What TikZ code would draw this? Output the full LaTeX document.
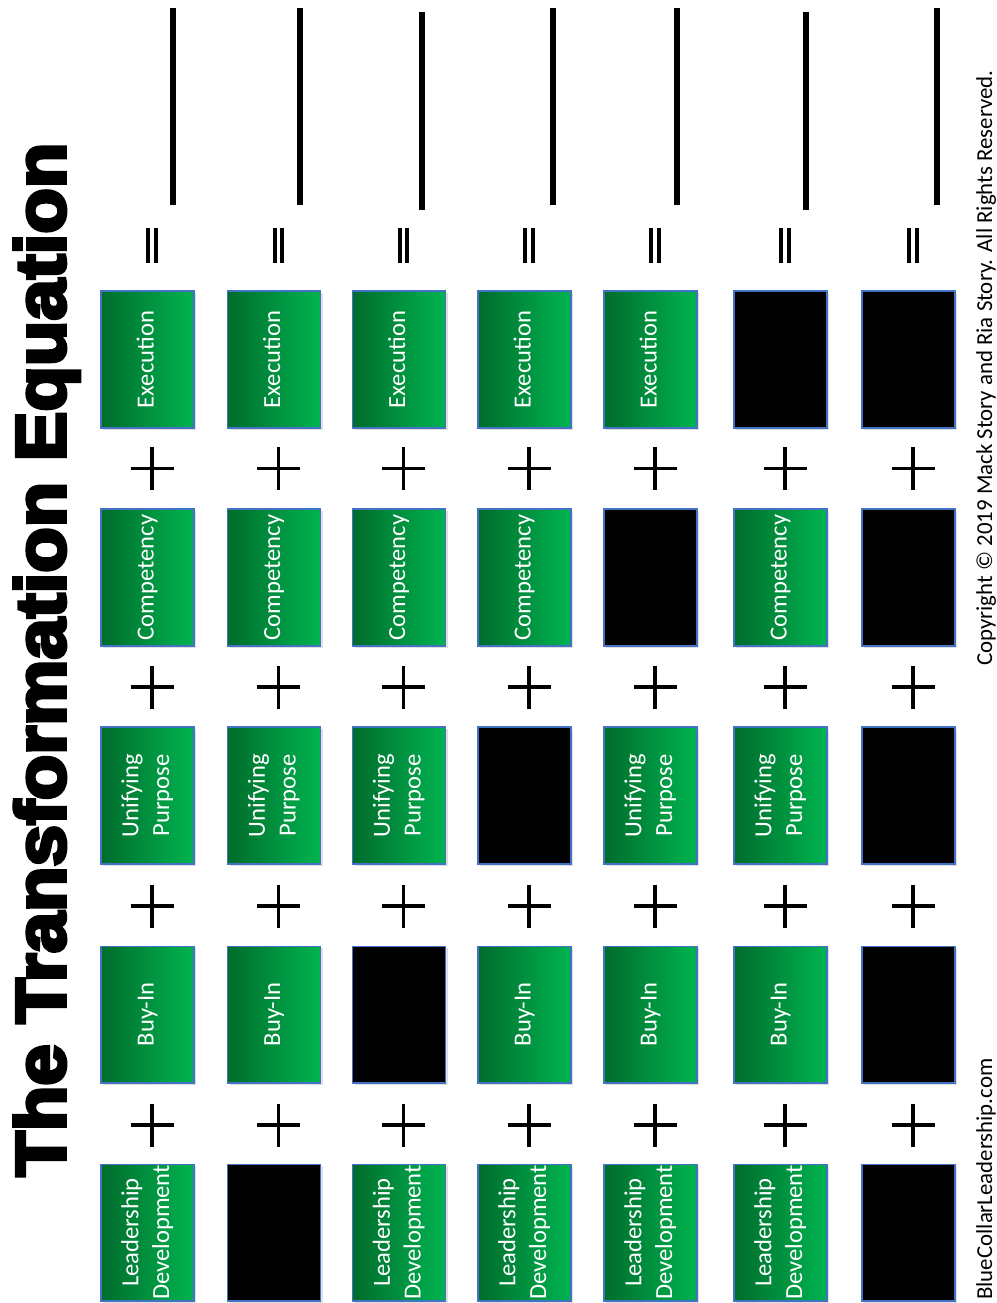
\documentclass[tikz,border=0pt]{standalone}
\usepackage{fontspec}
\setmainfont{Carlito}
\newfontfamily\titlefont{Liberation Sans}[UprightFont={* Bold},UprightFeatures={FakeBold=5}]
\usepackage{graphicx}
\usetikzlibrary{shadows}
\definecolor{gdark}{RGB}{0,108,44}
\definecolor{glight}{RGB}{0,180,80}
\definecolor{edge}{RGB}{68,114,196}
\newcommand{\rot}[1]{\rotatebox{90}{\begin{tabular}{@{}c@{}}#1\end{tabular}}}

\begin{document}
\begin{tikzpicture}[x=0.02cm,y=-0.02cm,
  G/.style={draw=edge,line width=0.6pt,inner sep=0pt,
            minimum width=1.86cm,minimum height=2.74cm,
            left color=gdark,right color=glight,text=white,
            font=\fontsize{14}{17.5}\selectfont,
            drop shadow={opacity=0.25,shadow xshift=1.2pt,shadow yshift=-1.2pt}},
  K/.style={draw=edge,line width=0.6pt,inner sep=0pt,
            minimum width=1.86cm,minimum height=2.74cm,fill=black,
            drop shadow={opacity=0.25,shadow xshift=1.2pt,shadow yshift=-1.2pt}},
  blank/.style={line width=3.4pt},
  note/.style={rotate=90,anchor=base west,inner sep=0pt,
               font=\fontsize{13}{15}\selectfont},
  plus/.pic={\draw[line width=2pt] (-21.5,0) -- (21.5,0) (0,-21.5) -- (0,21.5);},
  equal/.pic={\draw[line width=2.3pt] (-3.6,-17.5) -- (-3.6,17.5) (3.6,-17.5) -- (3.6,17.5);}
]
\useasboundingbox (0,0) rectangle (997,1303);

%% col-x:  147.5 | 274 | 399 | 524.5 | 650.5 | 780.5 | 908.5
%% row-y:  359.5 | 577.5 | 795.5 | 1014.5 | 1232.5

% title
\node[rotate=90,anchor=base west,inner sep=0pt] (title) at (65,1177)
      {\resizebox{20.68cm}{1.02cm}{\titlefont The Transformation Equation}};

% green boxes
\foreach \x/\n in {147.5/1,274/2,399/3,524.5/4,650.5/5}
  \node[G] (ex\n) at (\x,359.5) {\rot{Execution}};
\foreach \x/\n in {147.5/1,274/2,399/3,524.5/4,780.5/6}
  \node[G] (co\n) at (\x,577.5) {\rot{Competency}};
\foreach \x/\n in {147.5/1,274/2,399/3,650.5/5,780.5/6}
  \node[G] (up\n) at (\x,795.5) {\rot{Unifying\\Purpose}};
\foreach \x/\n in {147.5/1,274/2,524.5/4,650.5/5,780.5/6}
  \node[G] (bi\n) at (\x,1014.5) {\rot{Buy-In}};
\foreach \x/\n in {147.5/1,399/3,524.5/4,650.5/5,780.5/6}
  \node[G] (ld\n) at (\x,1232.5) {\rot{Leadership\\Development}};

% blacked-out boxes
\foreach \x/\y/\n in {780.5/359.5/ex6, 908.5/359.5/ex7,
                      650.5/577.5/co5, 908.5/577.5/co7,
                      524.5/795.5/up4, 908.5/795.5/up7,
                      399/1014.5/bi3,  908.5/1014.5/bi7,
                      274/1232.5/ld2,  908.5/1232.5/ld7}
  \node[K] (\n) at (\x,\y) {};

% plus and equal signs
\foreach \x in {152,278.5,403.5,529,655,785,913}{
  \foreach \y in {468.5,687,906,1125}
    \pic at (\x,\y) {plus};
  \pic at (\x,245) {equal};
}

% answer lines
\foreach \x/\a/\b in {173/8/205, 300/8/205, 422/12/210, 553/8/205,
                      677/8/205, 806/12/210, 937/8/205}
  \draw[blank] (\x,\a) -- (\x,\b);

% footer
\node[note] (site) at (992,1300) {BlueCollarLeadership.com};
\node[note] (copy) at (992,666)
      {Copyright \textcopyright{} 2019 Mack Story and Ria Story. All Rights Reserved.};

\end{tikzpicture}
\end{document}
